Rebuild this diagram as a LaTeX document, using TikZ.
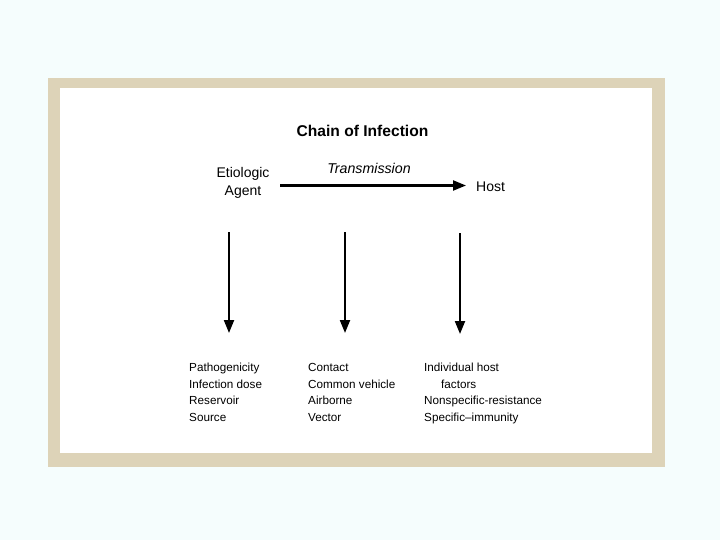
\documentclass[tikz,border=0pt]{standalone}
\usepackage{fontspec}
\setmainfont{Liberation Sans}
\usetikzlibrary{arrows.meta}
\definecolor{bgout}{HTML}{F5FDFD}
\definecolor{frame}{HTML}{DDD3B8}
\tikzset{
  lbl/.style={inner sep=0pt, font=\fontsize{11.7}{13}\selectfont, anchor=base west},
  big/.style={inner sep=0pt, font=\fontsize{14}{16}\selectfont, anchor=base},
  arr/.style={line width=2.1pt, -{Triangle[length=13pt,width=10pt]}}
}
\begin{document}
\begin{tikzpicture}[x=1pt,y=-1pt]
\useasboundingbox (0,0) rectangle (720,540);
\fill[bgout] (0,0) rectangle (720,540);
\fill[frame] (48,78) rectangle (665,467);
\fill[white] (60,88) rectangle (652,453);
% title
\node[inner sep=0pt, anchor=base, font=\fontsize{15.6}{17}\selectfont\bfseries] (title) at (362.5,136.5) {Chain of Infection};
\node[big] (etio) at (243,178) {Etiologic};
\node[big] (agent) at (243,195.5) {Agent};
\node[big, anchor=base west] (host) at (476,192) {Host};
\node[big, font=\fontsize{14.2}{16}\selectfont\itshape] (trans) at (369,174) {Transmission};
% arrows
\coordinate (hs) at (280,185.5);
\coordinate (he) at (466,185.5);
\draw[arr] (hs) -- (he);
\coordinate (a1s) at (229,232);
\coordinate (a1e) at (229,333);
\coordinate (a2s) at (345,232);
\coordinate (a2e) at (345,333);
\coordinate (a3s) at (460,233);
\coordinate (a3e) at (460,334);
\draw[arr] (a1s) -- (a1e);
\draw[arr] (a2s) -- (a2e);
\draw[arr] (a3s) -- (a3e);
% column 1
\node[lbl] (c1a) at (189,371.5) {Pathogenicity};
\node[lbl] (c1b) at (189,388.2) {Infection dose};
\node[lbl] (c1c) at (189,404.9) {Reservoir};
\node[lbl] (c1d) at (189,421.6) {Source};
% column 2
\node[lbl] (c2a) at (308,371.5) {Contact};
\node[lbl] (c2b) at (308,388.2) {Common vehicle};
\node[lbl] (c2c) at (308,404.9) {Airborne};
\node[lbl] (c2d) at (308,421.6) {Vector};
% column 3
\node[lbl] (c3a) at (424,371.5) {Individual host};
\node[lbl] (c3b) at (441,388.2) {factors};
\node[lbl] (c3c) at (424,404.9) {Nonspecific-resistance};
\node[lbl] (c3d) at (424,421.6) {Specific--immunity};
\end{tikzpicture}
\end{document}
